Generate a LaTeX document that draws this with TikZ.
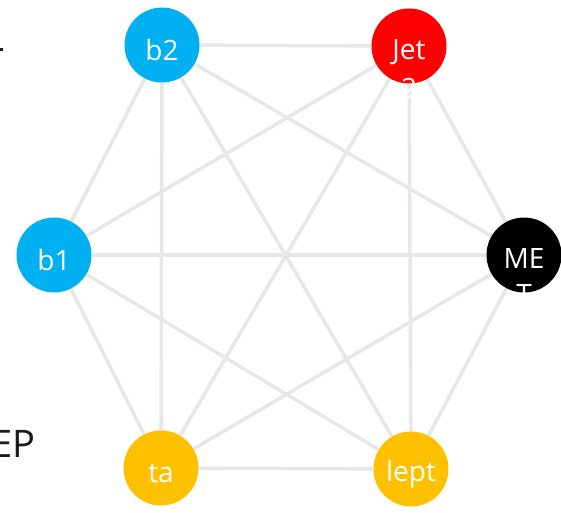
\documentclass[tikz,border=0pt]{standalone}
\usepackage{fontspec}
\setmainfont{Open Sans}
\pgfdeclarelayer{background}
\pgfsetlayers{background,main}
\definecolor{bblue}{HTML}{00B0F0}
\definecolor{jred}{HTML}{FF0000}
\definecolor{lyellow}{HTML}{FFC000}
\definecolor{edgegray}{HTML}{E7E7E7}
\definecolor{inkdark}{HTML}{1A1A1A}
\tikzset{
  vtx/.style={circle, minimum size=75bp, inner sep=0pt, draw=none},
  lbl/.style={text=white, font=\fontsize{28bp}{32bp}\selectfont, inner sep=0pt},
  edge/.style={draw=edgegray, line width=3.5bp},
}
\begin{document}
\begin{tikzpicture}[x=1bp,y=-1bp]
\useasboundingbox (0,0) rectangle (561,513);
% nodes
\node[vtx, fill=bblue]   (b2)   at (162,45)  {};
\node[vtx, fill=jred]    (jet)  at (409,46)  {};
\node[vtx, fill=bblue]   (b1)   at (54,255)  {};
\node[vtx, fill=black]   (met)  at (524,255) {};
\node[vtx, fill=lyellow] (ta)   at (161,468) {};
\node[vtx, fill=lyellow] (lept) at (411,469) {};
% edges
\begin{pgfonlayer}{background}
\fill[white] (0,0) rectangle (561,513);
\foreach \a/\b in {b2/jet,b2/b1,b2/met,b2/ta,b2/lept,
                   jet/b1,jet/met,jet/ta,jet/lept,
                   b1/met,b1/ta,b1/lept,
                   met/ta,met/lept,
                   ta/lept}
  \draw[edge] (\a) -- (\b);
\end{pgfonlayer}
% labels
\node[lbl] (b2t)   at ([yshift=-5bp]b2.center)   {b2};
\node[lbl] (jett)  at ([yshift=-6bp]jet.center)  {Jet};
\node[lbl] (jett2) at ([yshift=-42bp]jet.center) {2};
\node[lbl] (b1t)   at ([yshift=-5bp]b1.center)   {b1};
\node[lbl] (mett)  at ([yshift=-4bp]met.center)  {ME};
\node[lbl] (mett2) at ([yshift=-40bp]met.center) {T};
\node[lbl] (tat)   at ([yshift=-5bp]ta.center)   {ta};
\node[lbl] (leptt) at ([yshift=-5bp]lept.center) {lept};
% clipped text at the left edge
\node[anchor=base west, inner sep=0pt, text=inkdark, font=\fontsize{38bp}{44bp}\selectfont] (ep) at (-9,457) {EP};
\fill[inkdark] (0,48) rectangle (2.5,51);
\end{tikzpicture}
\end{document}
